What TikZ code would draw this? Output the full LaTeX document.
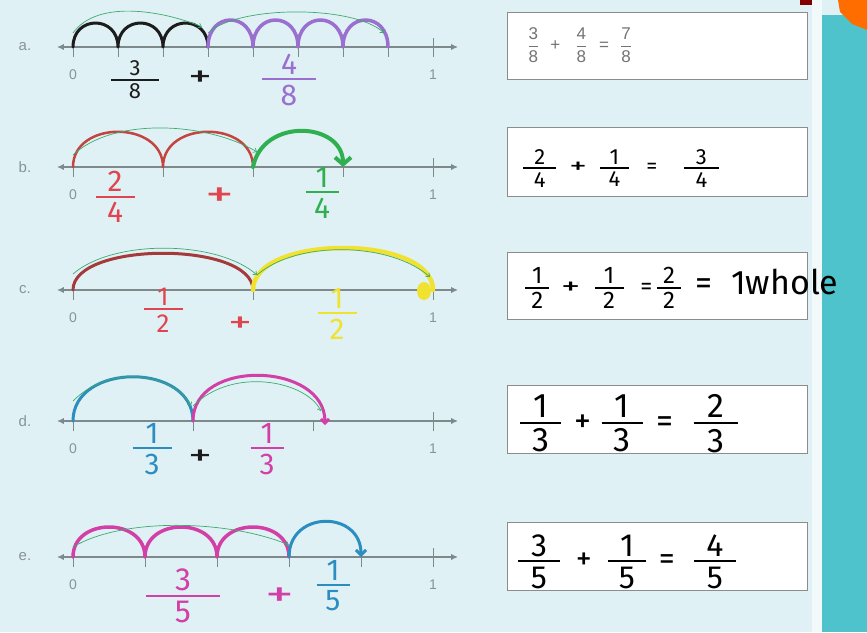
\RequirePackage{fix-cm}
\documentclass[tikz,border=0pt]{standalone}
\usepackage{amsmath}
\usepackage{fontspec}
\setmainfont{Liberation Sans}
\newfontfamily\handfont{Fira Sans}
\usetikzlibrary{arrows.meta}

\definecolor{bgblue}{HTML}{DFF1F5}
\definecolor{tealbar}{HTML}{4EC3CB}
\definecolor{linegray}{HTML}{7E898C}
\definecolor{lblgray}{HTML}{8A9396}
\definecolor{boxgray}{HTML}{8C8C8C}
\definecolor{guidegreen}{HTML}{3DAA6E}
\definecolor{inkblack}{HTML}{1C1C1C}
\definecolor{inkpurple}{HTML}{9A6FCF}
\definecolor{inkred}{HTML}{E0454F}
\definecolor{arcred}{HTML}{C4443F}
\definecolor{darkred}{HTML}{A53A3A}
\definecolor{inkgreen}{HTML}{2FAF4F}
\definecolor{inkyellow}{HTML}{F0E22E}
\definecolor{inkblue}{HTML}{2C8DC0}
\definecolor{inkmagenta}{HTML}{D23FA6}

% handwritten fraction: [bar width]{top}{bottom}
\newcommand\hfrac[3][1.3em]{\ensuremath{\vcenter{\offinterlineskip\halign{\hfil##\hfil\cr
  \hbox{#2}\cr\noalign{\kern.12em}\vrule width #1 height 2pt depth 0pt\cr
  \noalign{\kern.15em}\hbox{#3}\cr}}}}
% wide hand-drawn plus
\newcommand\hplus{\scalebox{1.6}[1]{+}}
% printed fraction
\newcommand\pfrac[2]{\ensuremath{\genfrac{}{}{0.6pt}{0}{\text{#1}}{\text{#2}}}}

\begin{document}
\begin{tikzpicture}[x=1pt,y=-1pt,
  numline/.style={draw=linegray,line width=1.3pt,{Latex[length=2.4mm,width=2.2mm]}-{Latex[length=2.4mm,width=2.2mm]}},
  tickmark/.style={draw=linegray,line width=1pt},
  hop/.style={line width=3pt,line cap=round,line join=round},
  guide/.style={draw=guidegreen,line width=0.7pt,-{Straight Barb[length=3pt,width=5pt]}},
  eqbox/.style={draw=boxgray,fill=white,line width=1.2pt,minimum width=300pt,anchor=north west,inner sep=0pt},
  rowlbl/.style={text=lblgray,font=\fontsize{15}{15}\selectfont},
  numlbl/.style={text=lblgray,font=\fontsize{14}{14}\selectfont},
  hand/.style={font=\handfont\fontsize{#1}{#1}\selectfont,inner sep=0pt}]

  \fill[bgblue] (0,0) rectangle (867,632);
  \useasboundingbox (0,0) rectangle (867,632);
  % side bar
  \fill[white!60!bgblue] (812,0) rectangle (822,632);
  \fill[tealbar] (822,15) rectangle (867,632);
  \fill[orange!85!red] (838,0) -- (867,0) -- (867,30) -- (852,24) -- (840,12) -- cycle;
  \fill[red!50!black] (800,0) rectangle (812,5);

  % number lines
  \foreach \r/\y/\n in {a/47/8,b/167/4,c/290/2,d/421/3,e/557/5}{
    \coordinate (\r-left) at (57,\y);
    \coordinate (\r-right) at (458,\y);
    \draw[numline] (\r-left) -- (\r-right);
    \foreach \k in {0,...,\n}
      \coordinate (\r\k) at ({73+360*\k/\n},\y);
    \foreach \k in {0,...,\n}
      \draw[tickmark] (\r\k) -- ++(0,10);
    \draw[tickmark] ([yshift=9pt]\r\n) -- ++(0,9);
    \node[rowlbl] (lbl-\r) at (25,\y) {\r.};
    \node[numlbl] (zero-\r) at ([yshift=-28pt]\r0) {0};
    \node[numlbl] (one-\r) at ([yshift=-28pt]\r\n) {1};
  }

  % answer boxes
  \node[eqbox,minimum height=67pt] (boxa) at (507,12) {};
  \node[eqbox,minimum height=69pt] (boxb) at (507,127) {};
  \node[eqbox,minimum height=67pt] (boxc) at (507,252) {};
  \node[eqbox,minimum height=68pt] (boxd) at (507,385) {};
  \node[eqbox,minimum height=68pt] (boxe) at (507,522) {};

  % a: 3/8 + 4/8
  \draw[hop,draw=inkblack] (a0) .. controls +(0,-32) and +(0,-32) .. (a1)
    .. controls +(0,-32) and +(0,-32) .. (a2) .. controls +(0,-32) and +(0,-32) .. (a3);
  \draw[hop,draw=inkpurple,line width=3.5pt] (a3) .. controls +(0,-36) and +(0,-36) .. (a4)
    .. controls +(0,-36) and +(0,-36) .. (a5) .. controls +(0,-36) and +(0,-36) .. (a6)
    .. controls +(0,-36) and +(0,-36) .. (a7);
  \draw[guide] ([yshift=14pt]a0) .. controls +(25,-35) and +(-35,-15) .. ([xshift=-6pt,yshift=20pt]a3);
  \draw[guide] ([yshift=14pt]a3) .. controls +(30,-28) and +(-30,-28) .. ([xshift=-4pt,yshift=14pt]a7);
  \node[hand=22,text=inkblack] (fa1) at (135,80) {\hfrac[2.2em]{3}{8}};
  \node[hand=30,text=inkblack] (pa) at (200,79) {\hplus};
  \node[hand=30,text=inkpurple] (fa2) at (289,80) {\hfrac[1.8em]{4}{8}};
  \node[anchor=west,text=black!55,font=\fontsize{17}{17}\selectfont] (eqa)
    at ([xshift=17pt,yshift=1pt]boxa.west) {\pfrac{3}{8}\hspace{11pt}+\hspace{15pt}\pfrac{4}{8}\hspace{12pt}=\hspace{11pt}\pfrac{7}{8}};

  % b: 2/4 + 1/4
  \draw[hop,draw=arcred,line width=2.5pt] (b0) .. controls +(0,-47) and +(0,-47) .. (b1)
    .. controls +(0,-47) and +(0,-47) .. (b2);
  \draw[guide] ([yshift=12pt]b0) .. controls +(40,-38) and +(-50,-30) .. ([xshift=4pt,yshift=15pt]b2);
  \draw[hop,draw=inkgreen,line width=4pt,-{Straight Barb[length=7pt,width=16pt]}] (b2) .. controls +(10,-50) and +(0,-45) .. (b3);
  \node[hand=30,text=inkred] (fb1) at (115,197) {\hfrac[1.3em]{2}{4}};
  \node[hand=36,text=inkred] (pb) at (220,197) {\hplus};
  \node[hand=30,text=inkgreen] (fb2) at (322,193) {\hfrac[1.1em]{1}{4}};
  \node[hand=22,anchor=west] (eqb) at ([xshift=16pt,yshift=-6pt]boxb.west)
    {\hfrac[1.5em]{2}{4}\hspace{.6em}\hplus\hspace{.6em}\hfrac{1}{4}\hspace{.8em}=\hspace{1.2em}\hfrac[1.6em]{3}{4}};

  % c: 1/2 + 1/2
  \draw[hop,draw=darkred] (c0) .. controls +(0,-49) and +(0,-49) .. (c1);
  \draw[hop,draw=inkyellow,line width=4.5pt] (c1) .. controls +(0,-56) and +(0,-56) .. (c2);
  \fill[inkyellow] ([xshift=-9pt,yshift=-1pt]c2) ellipse (7pt and 9pt);
  \draw[guide] ([yshift=16pt]c0) .. controls +(40,-35) and +(-40,-35) .. ([xshift=4pt,yshift=15pt]c1);
  \draw[guide] ([xshift=4pt,yshift=15pt]c1) .. controls +(40,-35) and +(-40,-35) .. ([xshift=-3pt,yshift=13pt]c2);
  \node[hand=26,text=inkred] (fc1) at (163,310) {\hfrac[1.5em]{1}{2}};
  \node[hand=30,text=inkred] (pc) at (240,325) {\hplus};
  \node[hand=30,text=inkyellow] (fc2) at (337,314) {\hfrac[1.3em]{1}{2}};
  \node[hand=24,anchor=west] (eqc) at ([xshift=18pt,yshift=-2pt]boxc.west)
    {\hfrac[1em]{1}{2}\hspace{.5em}\hplus\hspace{.6em}\hfrac[1.2em]{1}{2}\hspace{.7em}=\hspace{.2em}\hfrac[1em]{2}{2}\hspace{.6em}{\fontsize{34}{34}\selectfont =\hspace{.55em}1whole}};

  % d: 1/3 + 1/3
  \draw[hop,draw=inkblue] (d0) .. controls +(0,-59) and +(0,-59) .. (d1);
  \draw[hop,draw=inkmagenta,-{Straight Barb[length=4pt,width=8pt]}] (d1) .. controls +(0,-63) and +(0,-63) .. ([xshift=12pt,yshift=-4pt]d2);
  \draw[guide] ([yshift=20pt]d0) .. controls +(40,-40) and +(-15,-30) .. ([xshift=-2pt,yshift=15pt]d1);
  \draw[guide] ([yshift=15pt]d1) .. controls +(40,-40) and +(-15,-30) .. ([xshift=8pt,yshift=10pt]d2);
  \node[hand=30,text=inkblue] (fd1) at (152,449) {\hfrac{1}{3}};
  \node[hand=30,text=inkblack] (pd) at (200,458) {\hplus};
  \node[hand=30,text=inkmagenta] (fd2) at (267,449) {\hfrac[1.1em]{1}{3}};
  \node[hand=34,anchor=west] (eqd) at ([xshift=13pt,yshift=-4pt]boxd.west)
    {\hfrac[1.2em]{1}{3}\hspace{.4em}+\hspace{.3em}\hfrac[1.2em]{1}{3}\hspace{.4em}=\hspace{.6em}\hfrac[1.3em]{2}{3}};

  % e: 3/5 + 1/5
  \draw[hop,draw=inkmagenta,line width=3.5pt] (e0) .. controls +(0,-40) and +(0,-40) .. (e1)
    .. controls +(0,-40) and +(0,-40) .. (e2) .. controls +(0,-40) and +(0,-40) .. (e3);
  \draw[guide] ([yshift=10pt]e0) .. controls +(50,-30) and +(-60,-25) .. ([yshift=12pt]e3);
  \draw[hop,draw=inkblue,-{Straight Barb[length=5pt,width=10pt]}] (e3) .. controls +(0,-47) and +(0,-47) .. (e4);
  \node[hand=32,text=inkmagenta] (fe1) at (183,596) {\hfrac[2.3em]{3}{5}};
  \node[hand=36,text=inkmagenta] (pe) at (280,597) {\hplus};
  \node[hand=30,text=inkblue] (fe2) at (333,586) {\hfrac[1.1em]{1}{5}};
  \node[hand=32,anchor=west] (eqe) at ([xshift=11pt,yshift=-5pt]boxe.west)
    {\hfrac{3}{5}\hspace{.5em}+\hspace{.5em}\hfrac[1.2em]{1}{5}\hspace{.4em}=\hspace{.6em}\hfrac{4}{5}};
\end{tikzpicture}
\end{document}
